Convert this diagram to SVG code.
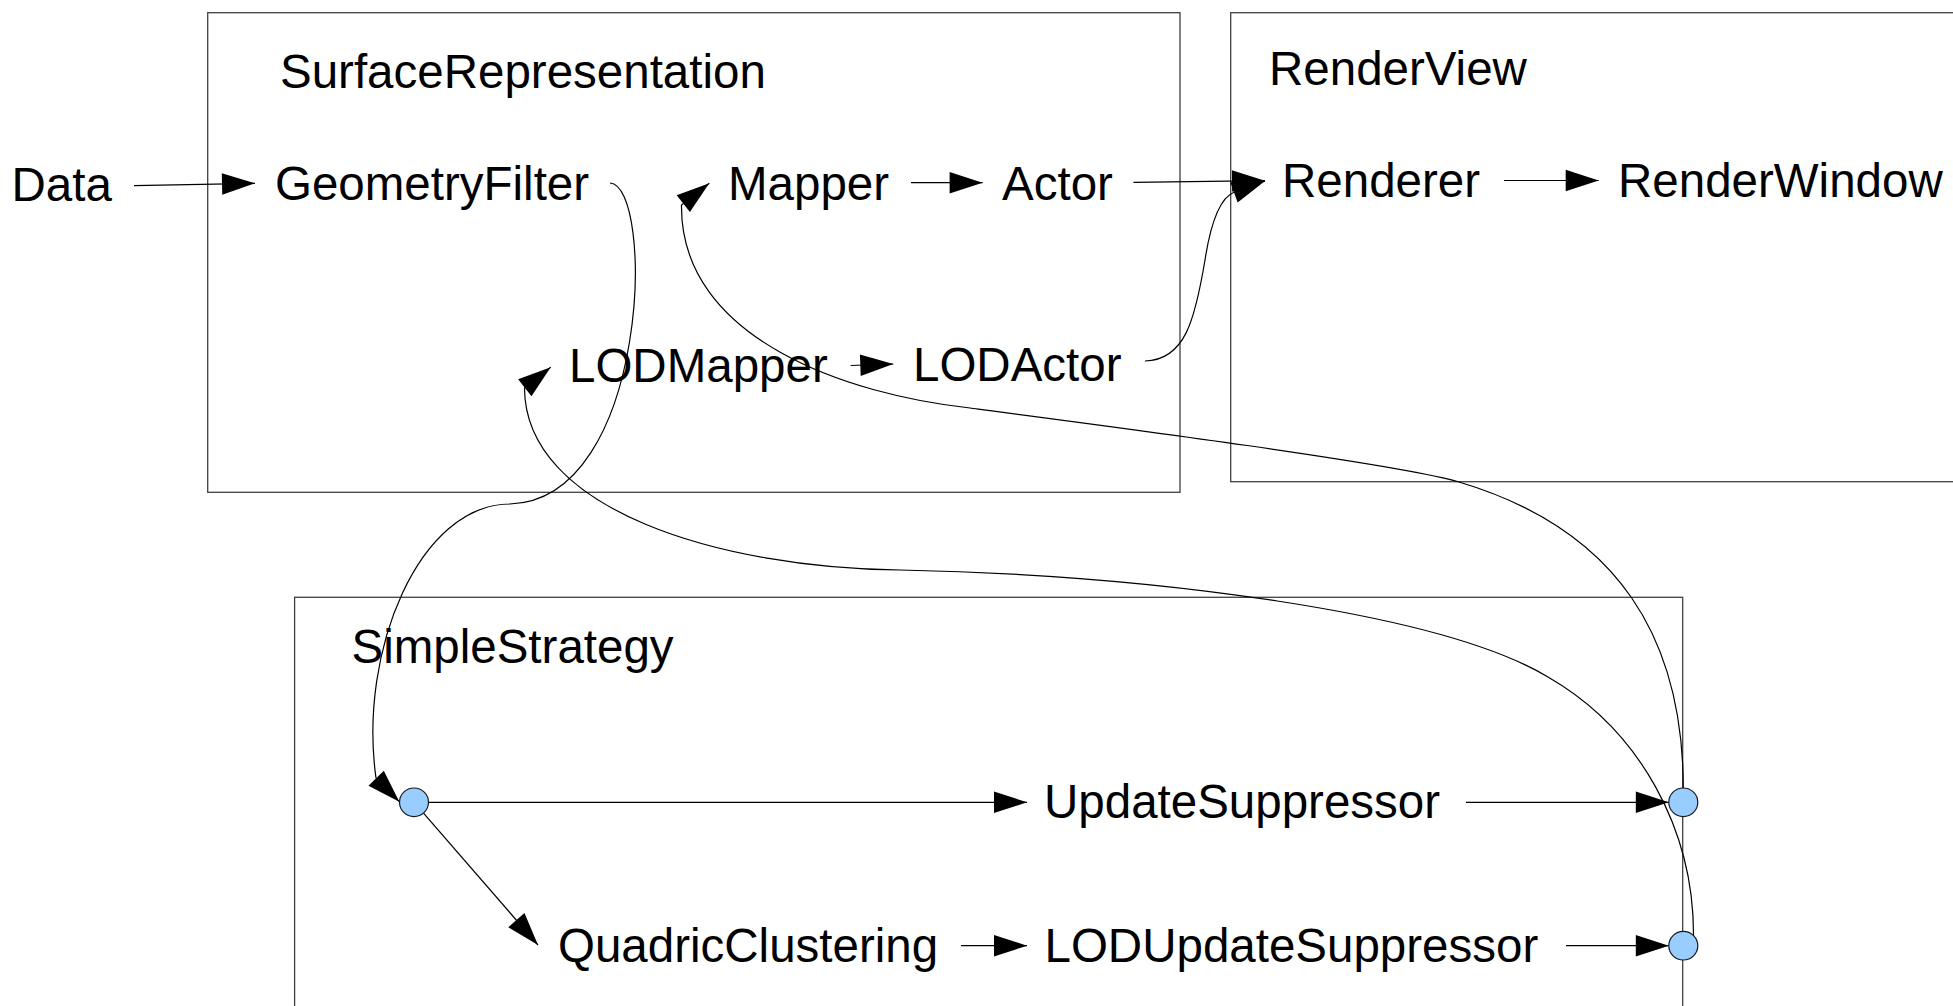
<svg xmlns="http://www.w3.org/2000/svg" width="1953" height="1006" viewBox="0 0 1953 1006">
  <style>
    .box { fill: none; stroke: #404040; stroke-width: 1.3; }
    .label { font-family: "Liberation Sans", Arial, sans-serif; font-size: 47.5px; fill: #000; }
    .wire { fill: none; stroke: #000; stroke-width: 1.2; marker-end: url(#arrow); }
    .plain { fill: none; stroke: #000; stroke-width: 1.2; }
    .junction { fill: #99ccff; stroke: #1a1a1a; stroke-width: 1.2; }
  </style>
  <defs>
    <marker id="arrow" markerUnits="userSpaceOnUse" viewBox="0 0 33 21.5" markerWidth="33" markerHeight="21.5" refX="33" refY="10.75" orient="auto" overflow="visible">
      <path d="M0,0 L33,10.75 L0,21.5 Z" fill="#000"/>
    </marker>
  </defs>
  <rect width="1953" height="1006" fill="#fff"/>

  <!-- containers -->
  <g id="surface-representation">
    <rect class="box" x="207.7" y="12.7" width="972.3" height="479.6"/>
    <text class="label" x="280" y="88">SurfaceRepresentation</text>
  </g>
  <g id="render-view">
    <rect class="box" x="1230.7" y="12.7" width="760" height="469"/>
    <text class="label" x="1269" y="85">RenderView</text>
  </g>
  <g id="simple-strategy">
    <rect class="box" x="294.6" y="597.3" width="1388.1" height="440"/>
    <text class="label" x="351.5" y="663">SimpleStrategy</text>
  </g>

  <!-- pipeline stages -->
  <g id="data"><text class="label" x="11.5" y="201">Data</text></g>
  <g id="geometry-filter"><text class="label" x="275" y="200">GeometryFilter</text></g>
  <g id="mapper"><text class="label" x="728" y="200">Mapper</text></g>
  <g id="actor"><text class="label" x="1002" y="200">Actor</text></g>
  <g id="lod-mapper"><text class="label" x="569" y="382">LODMapper</text></g>
  <g id="lod-actor"><text class="label" x="913" y="381">LODActor</text></g>
  <g id="renderer"><text class="label" x="1282" y="197">Renderer</text></g>
  <g id="render-window"><text class="label" x="1618" y="197">RenderWindow</text></g>
  <g id="update-suppressor"><text class="label" x="1044" y="818">UpdateSuppressor</text></g>
  <g id="quadric-clustering"><text class="label" x="558" y="962">QuadricClustering</text></g>
  <g id="lod-update-suppressor"><text class="label" x="1044.5" y="962">LODUpdateSuppressor</text></g>

  <!-- connectors -->
  <g id="connectors">
    <path class="wire" d="M134,185.7 L255,183.3"/>
    <path class="wire" d="M911,182.7 L982.6,182.7"/>
    <path class="wire" d="M1133.5,182.3 L1265,180.7"/>
    <path class="wire" d="M1145,361 C1185,360 1195,320 1205,260 C1212,215 1222,197 1234,192.3 L1265,181"/>
    <path class="wire" d="M850.7,365.5 L893.3,364"/>
    <path class="wire" d="M1504,180.5 L1598.7,180.5"/>
    <!-- GeometryFilter output into the strategy's input junction -->
    <path class="wire" d="M610,183 C655,185 650,500 510,504 C420,504 358,650 376,778 L399.3,801.7"/>
    <!-- UpdateSuppressor junction back to Mapper -->
    <path class="wire" d="M1683.3,788 C1683,640 1620,530 1459,482 C1400,464 1100,425 970,408 C850,395 680,340 681.5,205 L709.3,183.3"/>
    <!-- LODUpdateSuppressor junction back to LODMapper -->
    <path class="wire" d="M1693.5,936 C1694,830 1640,730 1548,677 C1440,612 1150,575 900,570 C720,568 525,510 524.5,388 L550.7,367.3"/>
    <path class="wire" d="M428.8,802.3 L1027,802.3"/>
    <path class="wire" d="M1466,802.3 L1668.8,802.3"/>
    <path class="wire" d="M423.5,813.2 L538,945"/>
    <path class="wire" d="M961,945.7 L1027,945.7"/>
    <path class="wire" d="M1566,945.7 L1668.8,945.7"/>
  </g>

  <!-- junction points -->
  <g id="junction-in"><ellipse class="junction" cx="414" cy="802.3" rx="14.5" ry="14.3"/></g>
  <g id="junction-update"><ellipse class="junction" cx="1683.3" cy="802.3" rx="14.5" ry="14.3"/></g>
  <g id="junction-lod-update"><ellipse class="junction" cx="1683.3" cy="945.7" rx="14.5" ry="14.3"/></g>
</svg>
